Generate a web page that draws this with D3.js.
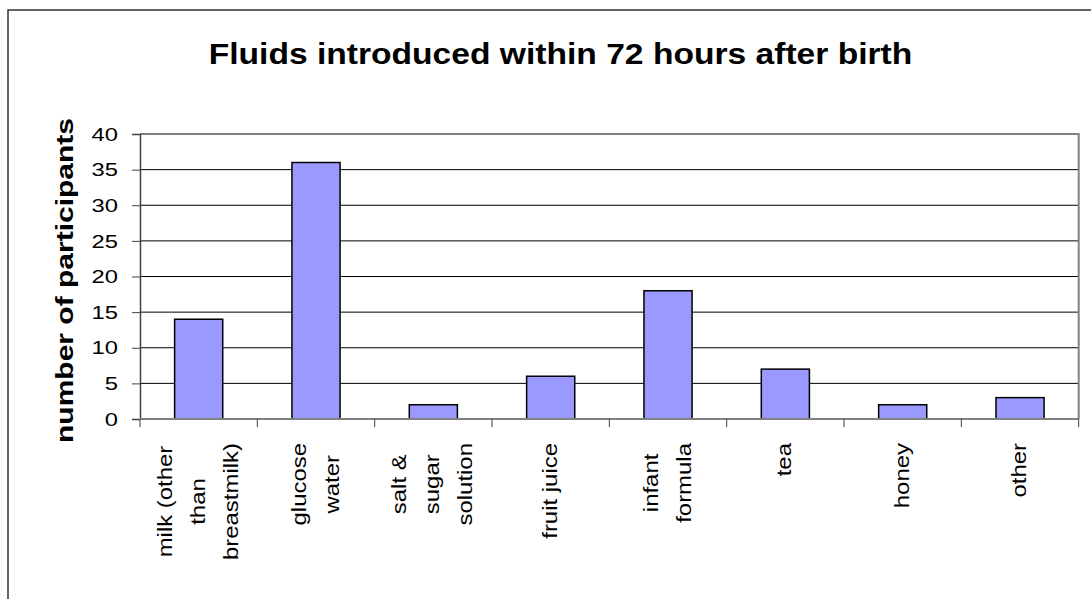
<!DOCTYPE html>
<html>
<head>
<meta charset="utf-8">
<script src="https://cdn.jsdelivr.net/npm/d3@7"></script>
<style>
  html, body { margin: 0; padding: 0; background: #fff; }
  svg { display: block; }
  text { font-family: "Liberation Sans", Arial, sans-serif; fill: #000; }
</style>
</head>
<body>
<svg id="chart" width="1091" height="599"></svg>
<script>
// Chart data
const chartTitle = "Fluids introduced within 72 hours after birth";
const yTitle = "number of participants";
const categories = [
  ["milk (other", "than", "breastmilk)"],
  ["glucose", "water"],
  ["salt &", "sugar", "solution"],
  ["fruit juice"],
  ["infant", "formula"],
  ["tea"],
  ["honey"],
  ["other"]
];
const participants = [14, 36, 2, 6, 18, 7, 2, 3];
const yTicks = [0, 5, 10, 15, 20, 25, 30, 35, 40];

const svg = d3.select("#chart");
const font = '"Liberation Sans", Arial, sans-serif';

// Plot frame
const plot = { left: 140, right: 1078.7, top: 134, bottom: 419 };

const keys = categories.map(c => c.join(" "));
const x = d3.scaleBand().domain(keys).range([plot.left, plot.right]).paddingInner(0).paddingOuter(0);
const y = d3.scaleLinear().domain([0, 40]).range([plot.bottom, plot.top]);

// Outer chart border
svg.append("rect")
  .attr("x", 8).attr("y", 10).attr("width", 1200).attr("height", 700)
  .attr("fill", "none").attr("stroke", "#333").attr("stroke-width", 1.5);

// Title (slightly widened lettering)
svg.append("text")
  .attr("transform", "translate(560.5,64) scale(1.12,1)")
  .attr("text-anchor", "middle")
  .style("font-size", "30px").style("font-weight", "bold")
  .text(chartTitle);

// Horizontal gridlines
svg.append("g").selectAll("line")
  .data(yTicks.filter(t => t > 0))
  .join("line")
  .attr("x1", plot.left).attr("x2", plot.right)
  .attr("y1", d => y(d)).attr("y2", d => y(d))
  .attr("stroke", "#000").attr("stroke-width", 1);

// Plot area border (top and right)
svg.append("path")
  .attr("d", `M${plot.left},${plot.top}H${plot.right}V${plot.bottom}`)
  .attr("fill", "none").attr("stroke", "#808080").attr("stroke-width", 2);

// Bars
const barW = x.bandwidth() * 0.41;
svg.append("g").selectAll("rect")
  .data(participants)
  .join("rect")
  .attr("x", (d, i) => x(keys[i]) + x.bandwidth() / 2 - barW / 2)
  .attr("width", barW)
  .attr("y", d => y(d))
  .attr("height", d => y(0) - y(d))
  .attr("fill", "#9999FF")
  .attr("stroke", "#000").attr("stroke-width", 1.5);

// Y axis
const yAxis = svg.append("g")
  .attr("transform", `translate(${plot.left},0)`)
  .call(d3.axisLeft(y).tickValues(yTicks).tickSize(8).tickPadding(0).tickFormat(d3.format("d")));
yAxis.select(".domain").attr("stroke", "#404040").attr("stroke-width", 1.5);
yAxis.selectAll(".tick line").attr("stroke", "#404040").attr("stroke-width", 1);
const yStretch = 1.25;
yAxis.selectAll(".tick text")
  .attr("x", null).attr("dy", null)
  .attr("text-anchor", "end")
  .attr("dominant-baseline", "central")
  .attr("transform", `translate(-22,0) scale(${yStretch},1)`)
  .style("font-size", "19px").style("font-family", font);

// X axis baseline and boundary ticks
const bounds = keys.map(k => x(k)).concat([x.range()[1]]);
svg.append("line")
  .attr("x1", plot.left).attr("x2", plot.right)
  .attr("y1", y(0)).attr("y2", y(0))
  .attr("stroke", "#808080").attr("stroke-width", 2);
svg.append("g").selectAll("line")
  .data(bounds)
  .join("line")
  .attr("x1", d => d).attr("x2", d => d)
  .attr("y1", y(0)).attr("y2", y(0) + 8)
  .attr("stroke", "#404040").attr("stroke-width", 1);

// Category labels: vertical, wrapped, centred on the longest line
const xStretch = 1.14;
const lineGap = 33;
const labelTop = 443;
categories.forEach((lines, i) => {
  const cx = x(keys[i]) + x.bandwidth() / 2;
  const g = svg.append("g");
  const texts = lines.map((ln, j) => {
    const bx = cx + (j - (lines.length - 1) / 2) * lineGap + 6;
    return g.append("text")
      .attr("text-anchor", "middle")
      .style("font-size", "21px")
      .datum(bx)
      .text(ln);
  });
  const maxLen = d3.max(texts, t => t.node().getComputedTextLength()) * xStretch;
  const cy = labelTop + maxLen / 2;
  texts.forEach(t => {
    t.attr("transform", `translate(${t.datum()},${cy}) rotate(-90) scale(${xStretch},1)`);
  });
});

// Y axis title
svg.append("text")
  .attr("transform", `translate(73,280.5) rotate(-90) scale(1.25,1)`)
  .attr("text-anchor", "middle")
  .style("font-size", "24px").style("font-weight", "bold")
  .text(yTitle);
</script>
</body>
</html>
